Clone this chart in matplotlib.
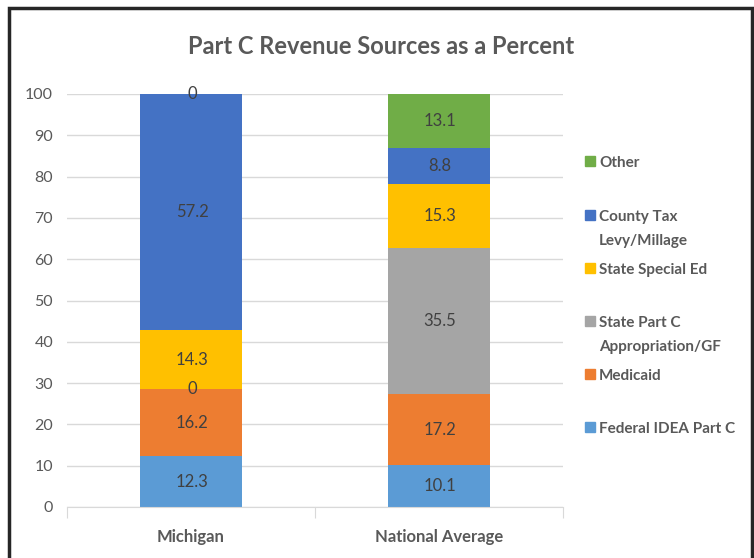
import numpy as np
import matplotlib.pyplot as plt
from matplotlib.patches import Rectangle

# data
regions = ["Michigan", "National Average"]
series_names = ["Federal IDEA Part C", "Medicaid", "State Part C\nAppropriation/GF",
                "State Special Ed", "County Tax\nLevy/Millage", "Other"]
federal = [12.3, 10.1]
medicaid = [16.2, 17.2]
state_part_c = [0, 35.5]
state_special_ed = [14.3, 15.3]
county_tax = [57.2, 8.8]
other = [0, 13.1]
yticks = [0, 10, 20, 30, 40, 50, 60, 70, 80, 90, 100]

colors = ["#5B9BD5", "#ED7D31", "#A5A5A5", "#FFC000", "#4472C4", "#70AD47"]
all_series = [federal, medicaid, state_part_c, state_special_ed, county_tax, other]

plt.rcParams['font.family'] = ['Lato', 'DejaVu Sans']
W, H = 754, 558
fig = plt.figure(figsize=(W / 100, H / 100), dpi=100)
ax = fig.add_axes([67 / W, 1 - 507 / H, (563 - 67) / W, (507 - 94) / H])

x = np.arange(len(regions))
bottom = np.zeros(len(regions))
for vals, col in zip(all_series, colors):
    vals = np.array(vals, dtype=float)
    ax.bar(x, vals, 0.41, bottom=bottom, color=col, zorder=2)
    for xi, b, v in zip(x, bottom, vals):
        ax.text(xi + 0.004, b + v / 2, f"{v:g}", ha="center", va="center",
                fontsize=12, color="#404040", zorder=3)
    bottom += vals

ax.set_xlim(-0.5, 1.5)
ax.set_ylim(0, 100)
ax.set_yticks(yticks)
ax.grid(axis="y", color="#D9D9D9", linewidth=1, zorder=0)
for s in ["top", "right", "left"]:
    ax.spines[s].set_visible(False)
ax.spines["bottom"].set_color("#D9D9D9")
ax.tick_params(axis="y", length=0, labelsize=11.5, labelcolor="#595959", pad=10)
ax.set_xticks([-0.5, 0.5, 1.5])
ax.set_xticklabels([])
ax.set_xticks(x, minor=True)
ax.set_xticklabels(regions, minor=True, fontsize=12, fontweight="bold", color="#595959")
ax.tick_params(axis="x", which="major", length=8, color="#D9D9D9", direction="out")
ax.tick_params(axis="x", which="minor", length=0, pad=16)

fig.text(381 / W, 1 - 47 / H, "Part C Revenue Sources as a Percent",
         ha="center", va="center", fontsize=17, fontweight="bold", color="#595959")

# legend, top entry = last series
legend_tops = [427, 374, 321, 268, 215, 161]
for name, col, ytop in zip(series_names, colors, legend_tops):
    fig.patches.append(Rectangle((585 / W, 1 - (ytop + 5) / H), 10 / W, 10 / H,
                                 transform=fig.transFigure, color=col, figure=fig))
    fig.text(599 / W, 1 - (ytop - 5) / H, name, ha="left", va="top",
             fontsize=11, fontweight="bold", color="#595959", linespacing=1.95)

# outer frame
fig.patches.append(Rectangle((9 / W, -0.05), (752 - 9) / W, 1.05 - 8 / H,
                             transform=fig.transFigure, fill=False,
                             edgecolor="#262626", linewidth=2.5, figure=fig))

fig.savefig("out.png", dpi=100)
